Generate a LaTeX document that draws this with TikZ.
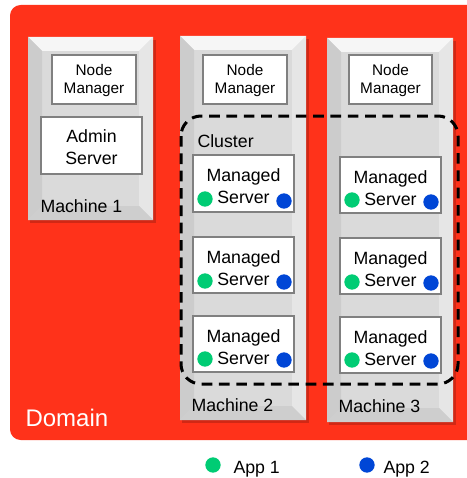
\documentclass[tikz,border=0pt]{standalone}
\usepackage{fontspec}
\setmainfont{Liberation Sans}
\usetikzlibrary{positioning}

\definecolor{domainred}{RGB}{255,50,26}
\definecolor{appgreen}{RGB}{0,204,116}
\definecolor{appblue}{RGB}{0,70,214}
\definecolor{boxgray}{RGB}{128,128,128}

\tikzset{every picture/.style={line width=0.75pt}}
\tikzset{
	face/.style={fill={rgb, 255:red, 218; green, 218; blue, 218 }},
	bevtop/.style={fill={rgb, 255:red, 246; green, 246; blue, 246 }},
	bevleft/.style={fill={rgb, 255:red, 204; green, 204; blue, 204 }},
	bevright/.style={fill={rgb, 255:red, 230; green, 230; blue, 230 }},
	bevbot/.style={fill={rgb, 255:red, 206; green, 206; blue, 206 }},
	inbox/.style={draw=boxgray, line width=1.1pt, fill=white},
	nmtext/.style={align=center, font=\fontsize{11.5}{13.5}\selectfont},
	mstext/.style={align=center, font=\fontsize{13.3}{16.5}\selectfont},
	lbl/.style={anchor=base west, inner sep=0pt, font=\fontsize{13.3}{16}\selectfont},
	dot/.style={circle, inner sep=0pt, minimum size=11.5pt},
}

\begin{document}
\begin{tikzpicture}[x=0.75pt,y=0.75pt,yscale=-1,xscale=1]
	\clip (0,0) rectangle (467,478);

	%Shape: Rectangle [domain]
	\fill [domainred, rounded corners=8] (10,5) rectangle (480,440);

	%Shape: shadows
	\fill [black, opacity=0.18] (30,40) rectangle (156,223);
	\fill [black, opacity=0.18] (182,39) rectangle (309,423);
	\fill [black, opacity=0.18] (329,41) rectangle (456,425);

	%Shape: Machine 1
	\fill [face] (28,37) rectangle (153,220);
	\fill [bevtop] (28,37) -- (153,37) -- (139,51) -- (42,51) -- cycle;
	\fill [bevleft] (28,37) -- (42,51) -- (42,206) -- (28,220) -- cycle;
	\fill [bevright] (153,37) -- (153,220) -- (139,206) -- (139,51) -- cycle;
	\fill [bevbot] (28,220) -- (42,206) -- (139,206) -- (153,220) -- cycle;
	%Shape: Machine 2
	\fill [face] (180,36) rectangle (306,420);
	\fill [bevtop] (180,36) -- (306,36) -- (292,50) -- (194,50) -- cycle;
	\fill [bevleft] (180,36) -- (194,50) -- (194,406) -- (180,420) -- cycle;
	\fill [bevright] (306,36) -- (306,420) -- (292,406) -- (292,50) -- cycle;
	\fill [bevbot] (180,420) -- (194,406) -- (292,406) -- (306,420) -- cycle;
	%Shape: Machine 3
	\fill [face] (327,38) rectangle (453,422);
	\fill [bevtop] (327,38) -- (453,38) -- (439,52) -- (341,52) -- cycle;
	\fill [bevleft] (327,38) -- (341,52) -- (341,408) -- (327,422) -- cycle;
	\fill [bevright] (453,38) -- (453,422) -- (439,408) -- (439,52) -- cycle;
	\fill [bevbot] (327,422) -- (341,408) -- (439,408) -- (453,422) -- cycle;

	%Shape: Node Manager boxes
	\draw [inbox] (52,55) rectangle (136,104);
	\draw [inbox] (203,55) rectangle (287,104);
	\draw [inbox] (349,55) rectangle (432,104);
	%Shape: Admin Server box
	\draw [inbox] (41,117) rectangle (142,174);
	%Shape: Managed Server boxes
	\draw [inbox] (193,155) rectangle (294,212);
	\draw [inbox] (193,237) rectangle (294,293);
	\draw [inbox] (193,316) rectangle (294,372);
	\draw [inbox] (340,157) rectangle (441,213);
	\draw [inbox] (340,238) rectangle (441,294);
	\draw [inbox] (340,317) rectangle (441,373);

	%Shape: Cluster
	\draw [line width=2.25pt, dash pattern={on 8pt off 5pt}, rounded corners=15] (181,116) rectangle (458,384);

	% Text Node
	\draw (94,81) node [nmtext] (nm1) {Node\\Manager};
	\draw (245,81) node [nmtext] (nm2) {Node\\Manager};
	\draw (390.5,81) node [nmtext] (nm3) {Node\\Manager};
	% Text Node
	\draw (91.5,147) node [mstext] (admin) {Admin\\Server};
	% Text Node
	\draw (243.5,186) node [mstext] (ms21) {Managed\\Server};
	\draw (243.5,268) node [mstext] (ms22) {Managed\\Server};
	\draw (243.5,347) node [mstext] (ms23) {Managed\\Server};
	\draw (390.5,188) node [mstext] (ms31) {Managed\\Server};
	\draw (390.5,269) node [mstext] (ms32) {Managed\\Server};
	\draw (390.5,348) node [mstext] (ms33) {Managed\\Server};

	% App dots
	\draw (205,199) node [dot, fill=appgreen] (g21) {};
	\draw (284,201) node [dot, fill=appblue] (b21) {};
	\draw (205,281) node [dot, fill=appgreen] (g22) {};
	\draw (284,282) node [dot, fill=appblue] (b22) {};
	\draw (205,359) node [dot, fill=appgreen] (g23) {};
	\draw (284,360) node [dot, fill=appblue] (b23) {};
	\draw (352,200) node [dot, fill=appgreen] (g31) {};
	\draw (431,202) node [dot, fill=appblue] (b31) {};
	\draw (352,282) node [dot, fill=appgreen] (g32) {};
	\draw (431,283) node [dot, fill=appblue] (b32) {};
	\draw (352,360) node [dot, fill=appgreen] (g33) {};
	\draw (431,361) node [dot, fill=appblue] (b33) {};

	% Text Node
	\draw (40,212) node [lbl] (m1) {Machine 1};
	\draw (191,411) node [lbl] (m2) {Machine 2};
	\draw (338,412) node [lbl] (m3) {Machine 3};
	\draw (197,147) node [lbl] (cluster) {Cluster};
	\draw (25,426) node [lbl, white, font=\fontsize{18}{20}\selectfont] (domain) {Domain};

	% Legend
	\draw (213,465) node [dot, fill=appgreen] (leg1) {};
	\draw (233,473) node [lbl] (app1) {App 1};
	\draw (367,465) node [dot, fill=appblue] (leg2) {};
	\draw (383,473) node [lbl] (app2) {App 2};

\end{tikzpicture}
\end{document}
